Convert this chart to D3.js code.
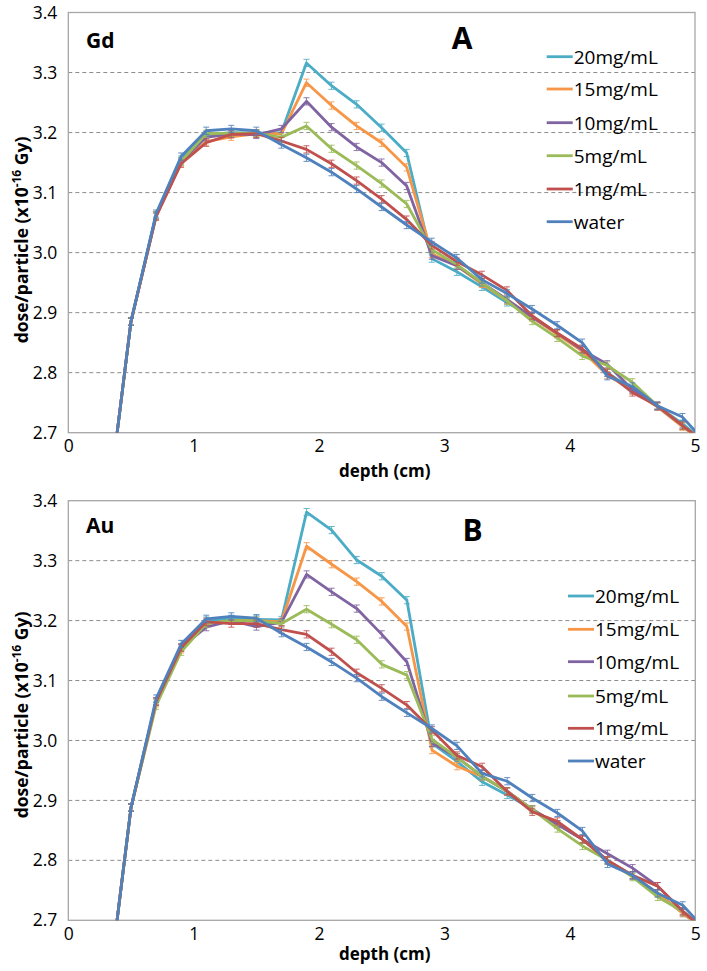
<!DOCTYPE html>
<html>
<head>
<meta charset="utf-8">
<script src="https://cdn.jsdelivr.net/npm/d3@7"></script>
<style>
  html, body { margin: 0; padding: 0; background: #fff; }
  svg { display: block; }
  text { font-family: "Open Sans", "DejaVu Sans", sans-serif; }
</style>
</head>
<body>
<svg id="chart" width="707" height="971"></svg>
<script>
// ---------- data ----------
const depth = [0.3, 0.5, 0.7, 0.9, 1.1, 1.3, 1.5, 1.7, 1.9, 2.1, 2.3, 2.5, 2.7, 2.9, 3.1, 3.3, 3.5, 3.7, 3.9, 4.1, 4.3, 4.5, 4.7, 4.9, 5.1];
const seriesNames = ["20mg/mL", "15mg/mL", "10mg/mL", "5mg/mL", "1mg/mL", "water"];
const seriesColors = ["#4BACC6", "#F79646", "#8064A2", "#9BBB59", "#C0504D", "#4F81BD"];
const xTicks = [0, 1, 2, 3, 4, 5];
const yTicks = [2.7, 2.8, 2.9, 3.0, 3.1, 3.2, 3.3, 3.4];
const errHalf = 0.006;

// Panel A: Gd
const gd20  = [2.55, 2.885, 3.062, 3.155, 3.196, 3.200, 3.199, 3.200, 3.316, 3.278, 3.247, 3.208, 3.166, 2.990, 2.968, 2.943, 2.917, 2.893, 2.865, 2.838, 2.800, 2.772, 2.744, 2.715, 2.68];
const gd15  = [2.55, 2.885, 3.060, 3.150, 3.185, 3.193, 3.198, 3.198, 3.283, 3.245, 3.211, 3.183, 3.142, 2.998, 2.978, 2.948, 2.920, 2.892, 2.864, 2.836, 2.796, 2.770, 2.743, 2.710, 2.68];
const gd10  = [2.55, 2.885, 3.062, 3.152, 3.192, 3.198, 3.196, 3.206, 3.252, 3.209, 3.176, 3.150, 3.111, 2.995, 2.978, 2.950, 2.922, 2.893, 2.866, 2.838, 2.814, 2.772, 2.744, 2.712, 2.68];
const gd5   = [2.55, 2.885, 3.062, 3.152, 3.198, 3.199, 3.199, 3.192, 3.211, 3.173, 3.145, 3.115, 3.081, 3.005, 2.980, 2.950, 2.920, 2.886, 2.858, 2.828, 2.812, 2.784, 2.745, 2.712, 2.68];
const gd1   = [2.55, 2.885, 3.060, 3.148, 3.183, 3.197, 3.198, 3.186, 3.172, 3.148, 3.120, 3.089, 3.055, 3.012, 2.985, 2.963, 2.937, 2.895, 2.866, 2.840, 2.800, 2.767, 2.745, 2.712, 2.68];
const gdW   = [2.55, 2.885, 3.065, 3.160, 3.203, 3.206, 3.203, 3.180, 3.158, 3.134, 3.106, 3.076, 3.046, 3.018, 2.991, 2.955, 2.932, 2.906, 2.879, 2.850, 2.794, 2.777, 2.745, 2.726, 2.68];

// Panel B: Au
const au20  = [2.55, 2.888, 3.065, 3.155, 3.200, 3.203, 3.202, 3.201, 3.381, 3.351, 3.301, 3.274, 3.234, 2.995, 2.965, 2.931, 2.909, 2.885, 2.860, 2.835, 2.800, 2.775, 2.745, 2.712, 2.68];
const au15  = [2.55, 2.888, 3.062, 3.152, 3.195, 3.200, 3.200, 3.198, 3.324, 3.294, 3.265, 3.232, 3.190, 2.984, 2.957, 2.940, 2.915, 2.885, 2.860, 2.835, 2.800, 2.775, 2.745, 2.712, 2.68];
const au10  = [2.55, 2.888, 3.065, 3.155, 3.189, 3.200, 3.190, 3.197, 3.277, 3.248, 3.220, 3.177, 3.131, 2.996, 2.972, 2.940, 2.915, 2.885, 2.860, 2.835, 2.811, 2.787, 2.757, 2.715, 2.68];
const au5   = [2.55, 2.888, 3.058, 3.148, 3.195, 3.200, 3.200, 3.195, 3.219, 3.194, 3.168, 3.127, 3.109, 3.002, 2.972, 2.940, 2.915, 2.885, 2.853, 2.824, 2.800, 2.772, 2.739, 2.715, 2.68];
const au1   = [2.55, 2.888, 3.065, 3.155, 3.198, 3.195, 3.195, 3.185, 3.177, 3.148, 3.113, 3.087, 3.059, 3.017, 2.975, 2.956, 2.915, 2.881, 2.865, 2.835, 2.800, 2.775, 2.757, 2.715, 2.68];
const auW   = [2.55, 2.888, 3.070, 3.161, 3.203, 3.207, 3.204, 3.179, 3.156, 3.131, 3.104, 3.073, 3.046, 3.020, 2.991, 2.945, 2.932, 2.904, 2.879, 2.849, 2.794, 2.775, 2.745, 2.725, 2.68];

// ---------- layout ----------
const panels = [
  { id: "A", element: "Gd", letter: "A", series: [gd20, gd15, gd10, gd5, gd1, gdW],
    left: 68.3, right: 695, top: 12.5, bottom: 432.7,
    elemPos: [86, 48.3], letterPos: [462, 49],
    legendX: 546.7, legendY: [56.7, 89, 122.7, 155.7, 189, 221.7],
    yTitleY: 240, xTitleDy: 44 },
  { id: "B", element: "Au", letter: "B", series: [au20, au15, au10, au5, au1, auW],
    left: 68.3, right: 695.3, top: 500.7, bottom: 920.3,
    elemPos: [86, 533.3], letterPos: [472.5, 540.7],
    legendX: 568, legendY: [596, 629.3, 661.7, 696, 728.3, 761],
    yTitleY: 715, xTitleDy: 40 }
];

const svg = d3.select("#chart");

panels.forEach(p => {
  const x = d3.scaleLinear().domain([0, 5]).range([p.left, p.right]);
  const y = d3.scaleLinear().domain([2.7, 3.4]).range([p.bottom, p.top]);
  const g = svg.append("g");

  // clip
  const clipId = "clip" + p.id;
  svg.append("clipPath").attr("id", clipId)
    .append("rect").attr("x", p.left).attr("y", p.top)
    .attr("width", p.right - p.left).attr("height", p.bottom - p.top);

  // gridlines
  g.append("g").selectAll("line").data(yTicks.filter(t => t > 2.75 && t < 3.35)).join("line")
    .attr("x1", p.left).attr("x2", p.right)
    .attr("y1", d => y(d)).attr("y2", d => y(d))
    .attr("stroke", "#8c8c8c").attr("stroke-width", 1).attr("stroke-dasharray", "4,3");

  // frame
  g.append("rect").attr("x", p.left).attr("y", p.top)
    .attr("width", p.right - p.left).attr("height", p.bottom - p.top)
    .attr("fill", "none").attr("stroke", "#a6a6a6").attr("stroke-width", 1.3);

  // axes (labels via d3 axes)
  const yAxis = d3.axisLeft(y).tickValues(yTicks).tickFormat(d3.format(".1f")).tickSize(0).tickPadding(11);
  const ya = g.append("g").attr("transform", `translate(${p.left},0)`).call(yAxis);
  ya.select(".domain").remove();
  ya.selectAll("text").attr("font-size", 17.5).attr("fill", "#000")
    .style("font-family", '"Open Sans", sans-serif');

  const xAxis = d3.axisBottom(x).tickValues(xTicks).tickFormat(d3.format("d")).tickSize(0).tickPadding(7);
  const xa = g.append("g").attr("transform", `translate(0,${p.bottom})`).call(xAxis);
  xa.select(".domain").remove();
  xa.selectAll("text").attr("font-size", 17.5).attr("fill", "#000")
    .style("font-family", '"Open Sans", sans-serif');

  // series
  const line = d3.line().x((d, i) => x(depth[i])).y(d => y(d));
  const plot = g.append("g").attr("clip-path", `url(#${clipId})`);
  p.series.forEach((vals, si) => {
    const col = seriesColors[si];
    const eb = plot.append("g");
    vals.forEach((v, i) => {
      const cx = x(depth[i]);
      eb.append("line").attr("x1", cx).attr("x2", cx)
        .attr("y1", y(v - errHalf)).attr("y2", y(v + errHalf))
        .attr("stroke", col).attr("stroke-width", 1).attr("opacity", 0.85);
      [v - errHalf, v + errHalf].forEach(e => {
        eb.append("line").attr("x1", cx - 3).attr("x2", cx + 3)
          .attr("y1", y(e)).attr("y2", y(e))
          .attr("stroke", col).attr("stroke-width", 1).attr("opacity", 0.85);
      });
    });
    plot.append("path").datum(vals).attr("d", line)
      .attr("fill", "none").attr("stroke", col).attr("stroke-width", 2.8)
      .attr("stroke-linejoin", "round");
  });

  // labels
  g.append("text").attr("x", p.elemPos[0]).attr("y", p.elemPos[1])
    .attr("font-size", 21).attr("font-weight", "bold").text(p.element);
  g.append("text").attr("x", p.letterPos[0]).attr("y", p.letterPos[1])
    .attr("text-anchor", "middle").attr("font-size", 30).attr("font-weight", "bold").text(p.letter);

  // legend
  seriesNames.forEach((name, si) => {
    const ly = p.legendY[si];
    g.append("line").attr("x1", p.legendX).attr("x2", p.legendX + 26)
      .attr("y1", ly).attr("y2", ly).attr("stroke", seriesColors[si]).attr("stroke-width", 2.8);
    g.append("text").attr("x", p.legendX + 27).attr("y", ly).attr("dy", "0.36em")
      .attr("font-size", 19).text(name);
  });

  // axis titles
  g.append("text").attr("x", (p.left + p.right) / 2 + 3).attr("y", p.bottom + p.xTitleDy)
    .attr("text-anchor", "middle").attr("font-size", 17).attr("font-weight", "bold").text("depth (cm)");
  const yt = g.append("text").attr("transform", `translate(28,${p.yTitleY}) rotate(-90)`)
    .attr("text-anchor", "middle").attr("font-size", 17.5).attr("font-weight", "bold");
  yt.append("tspan").text("dose/particle (x10");
  yt.append("tspan").attr("font-size", 12).attr("dy", -7).text("-16");
  yt.append("tspan").attr("dy", 7).text(" Gy)");
});
</script>
</body>
</html>
